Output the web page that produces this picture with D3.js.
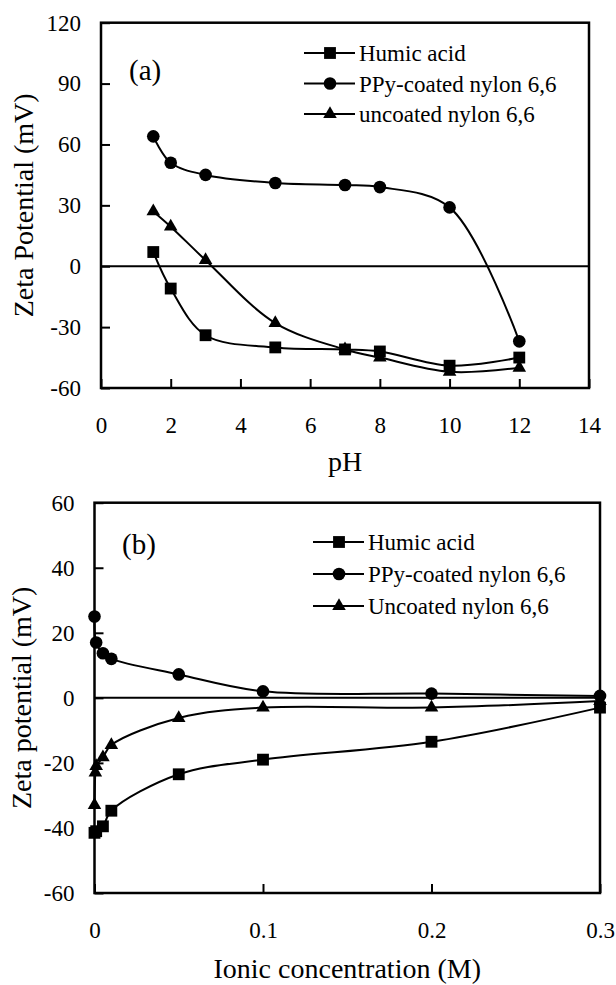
<!DOCTYPE html>
<html>
<head>
<meta charset="utf-8">
<style>
    body { margin: 0; background: #fff; }
    svg text { font-family: 'Liberation Serif', 'Times New Roman', serif; fill: #000; }
</style>
</head>
<body>
<svg width="616" height="985"></svg>
<script src="https://d3js.org/d3.v7.min.js"></script>
<script>
    // panel (a): zeta potential vs pH
    let phValues = [1.5, 2, 3, 5, 7, 8, 10, 12]
    let humicPH = [7, -11, -34, -40, -41, -42, -49, -45]
    let ppyPH = [64, 51, 45, 41, 40, 39, 29, -37]
    let uncoatedPH = [27, 19.5, 3, -28, -41, -45, -52, -50]
    let phTicks = [0, 2, 4, 6, 8, 10, 12, 14]
    let zetaTicksA = [-60, -30, 0, 30, 60, 90, 120]

    // panel (b): zeta potential vs ionic concentration
    let concHumic = [0, 0.001, 0.005, 0.01, 0.05, 0.1, 0.2, 0.3]
    let humicConc = [-41.5, -41, -39.5, -34.7, -23.5, -19, -13.5, -3]
    let concPPy = [0, 0.001, 0.005, 0.01, 0.05, 0.1, 0.2, 0.3]
    let ppyConc = [25, 17, 13.7, 12, 7.2, 2, 1.3, 0.6]
    let concUncoated = [0, 0.0005, 0.001, 0.005, 0.01, 0.05, 0.1, 0.2, 0.3]
    let uncoatedConc = [-33, -23, -21, -18.3, -14.5, -6.2, -3, -3, -1]
    let concTicks = [0, 0.1, 0.2, 0.3]
    let zetaTicksB = [-60, -40, -20, 0, 20, 40, 60]

    let svg = d3.select("svg")

    function zip(xs, ys) {
        return xs.map((x, i) => [x, ys[i]])
    }

    function drawPanel(p) {
        let x = d3.scaleLinear().domain(p.xDomain).range([p.left, p.right])
        let y = d3.scaleLinear().domain(p.yDomain).range([p.bottom, p.top])
        let g = svg.append("g")

        // axes with inward ticks
        let ax = g.append("g")
            .attr("transform", "translate(0," + p.bottom + ")")
            .call(d3.axisBottom(x).tickValues(p.xTicks).tickSizeInner(-9).tickSizeOuter(0)
                .tickPadding(29).tickFormat(d => d))
        let ay = g.append("g")
            .attr("transform", "translate(" + p.left + ",0)")
            .call(d3.axisLeft(y).tickValues(p.yTicks).tickSizeInner(-9).tickSizeOuter(0)
                .tickPadding(20).tickFormat(d => d))
        for (let a of [ax, ay]) {
            a.attr("font-family", null).attr("font-size", null)
            a.select(".domain").remove()
            a.selectAll("line").attr("stroke", "#000").attr("stroke-width", 2)
            a.selectAll("text").style("font-size", "23px")
        }

        // frame
        g.append("rect")
            .attr("x", p.left).attr("y", p.top)
            .attr("width", p.right - p.left).attr("height", p.bottom - p.top)
            .attr("fill", "none").attr("stroke", "#000").attr("stroke-width", 2.5)

        // zero line
        g.append("line")
            .attr("x1", p.left).attr("x2", p.right)
            .attr("y1", y(0)).attr("y2", y(0))
            .attr("stroke", "#000").attr("stroke-width", 2)

        let line = d3.line()
            .x(d => x(d[0])).y(d => y(d[1]))
            .curve(d3.curveCatmullRom.alpha(0.5))

        p.series.forEach(s => {
            g.append("path")
                .attr("d", line(s.data))
                .attr("fill", "none").attr("stroke", "#000").attr("stroke-width", 2)
            g.append("g").selectAll("path")
                .data(s.data)
                .join("path")
                .attr("transform", d => "translate(" + x(d[0]) + "," + y(d[1]) + ")")
                .attr("d", d3.symbol(s.symbol, s.size))
                .attr("fill", "#000")
        })

        // legend
        p.series.forEach((s, i) => {
            let ly = p.legendY + i * p.legendStep
            g.append("line")
                .attr("x1", p.legendX).attr("x2", p.legendX + 51)
                .attr("y1", ly).attr("y2", ly)
                .attr("stroke", "#000").attr("stroke-width", 2)
            g.append("path")
                .attr("transform", "translate(" + (p.legendX + 26) + "," + ly + ")")
                .attr("d", d3.symbol(s.symbol, s.size))
                .attr("fill", "#000")
            g.append("text")
                .attr("x", p.legendX + 55).attr("y", ly + 8)
                .style("font-size", "23px")
                .text(s.name)
        })

        // panel label
        g.append("text")
            .attr("x", p.tagX).attr("y", p.tagY)
            .style("font-size", "29px")
            .text(p.tag)

        // axis titles
        g.append("text")
            .attr("x", (p.left + p.right) / 2).attr("y", p.xTitleY)
            .attr("text-anchor", "middle").style("font-size", "28px")
            .text(p.xTitle)
        g.append("text")
            .attr("transform", "translate(" + p.yTitleX + "," + ((p.top + p.bottom) / 2) + ") rotate(-90)")
            .attr("text-anchor", "middle").style("font-size", "28px")
            .text(p.yTitle)
    }

    drawPanel({
        left: 101, right: 589, top: 22.7, bottom: 388,
        xDomain: [0, 14], yDomain: [-60, 120],
        xTicks: phTicks, yTicks: zetaTicksA,
        xTitle: "pH", yTitle: "Zeta Potential (mV)",
        xTitleY: 471, yTitleX: 33,
        tag: "(a)", tagX: 129, tagY: 80,
        legendX: 304, legendY: 53, legendStep: 30.5,
        series: [
            { name: "Humic acid", symbol: d3.symbolSquare, size: 140, data: zip(phValues, humicPH) },
            { name: "PPy-coated nylon 6,6", symbol: d3.symbolCircle, size: 125, data: zip(phValues, ppyPH) },
            { name: "uncoated nylon 6,6", symbol: d3.symbolTriangle, size: 80, data: zip(phValues, uncoatedPH) }
        ]
    })

    drawPanel({
        left: 94.5, right: 600, top: 502.7, bottom: 893,
        xDomain: [0, 0.3], yDomain: [-60, 60],
        xTicks: concTicks, yTicks: zetaTicksB,
        xTitle: "Ionic concentration (M)", yTitle: "Zeta potential (mV)",
        xTitleY: 978, yTitleX: 31,
        tag: "(b)", tagX: 122, tagY: 554,
        legendX: 313, legendY: 542, legendStep: 32,
        series: [
            { name: "Humic acid", symbol: d3.symbolSquare, size: 140, data: zip(concHumic, humicConc) },
            { name: "PPy-coated nylon 6,6", symbol: d3.symbolCircle, size: 125, data: zip(concPPy, ppyConc) },
            { name: "Uncoated nylon 6,6", symbol: d3.symbolTriangle, size: 80, data: zip(concUncoated, uncoatedConc) }
        ]
    })
</script>
</body>
</html>
